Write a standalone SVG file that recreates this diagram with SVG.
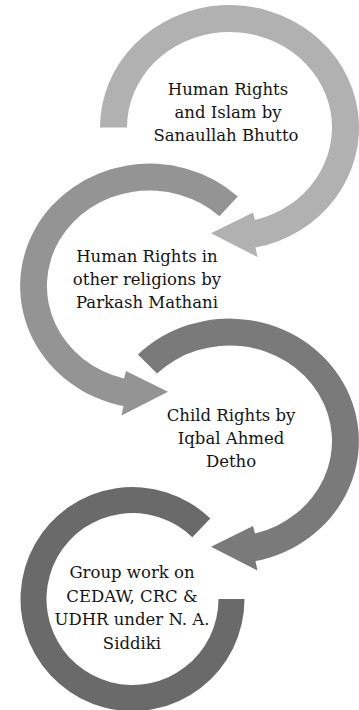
<svg xmlns="http://www.w3.org/2000/svg" width="359" height="710" viewBox="0 0 359 710">
<style>
  .lbl { font-family: "DejaVu Serif", "Liberation Serif", serif; font-size: 16.5px; fill: #141414; text-anchor: middle; }
  .a1 { fill: #b1b1b1; }
  .a2 { fill: #949494; }
  .a3 { fill: #7a7a7a; }
  .a4 { fill: #6a6a6a; }
</style>
<rect width="359" height="710" fill="#ffffff"/>
<g id="node1">
  <path class="a1" d="M 100 127.5 A 129.5 122.5 0 1 1 255.5 247.6 L 257.5 257 L 211 233.3 L 253 212.5 L 255 220 A 102.5 95.5 0 1 0 127 127.5 Z"/>
  <text class="lbl" x="228" y="95">Human Rights</text>
  <text class="lbl" x="228" y="118">and Islam by</text>
  <text class="lbl" x="226" y="141">Sanaullah Bhutto</text>
</g>
<g id="node2">
  <path class="a2" d="M 237.8 196.4 A 129.5 122.5 0 1 0 123.5 406.1 L 121.5 415.5 L 168 391.8 L 126 371 L 124 378.5 A 102.5 95.5 0 1 1 219.4 216.2 Z"/>
  <text class="lbl" x="147" y="262">Human Rights in</text>
  <text class="lbl" x="147" y="285">other religions by</text>
  <text class="lbl" x="147" y="308">Parkash Mathani</text>
</g>
<g id="node3">
  <path class="a3" d="M 137.9 354.4 A 129.5 122.5 0 1 1 255.5 561.1 L 257.5 570.5 L 211 546.8 L 253 526 L 255 533.5 A 102.5 95.5 0 1 0 157 373.5 Z"/>
  <text class="lbl" x="231" y="421">Child Rights by</text>
  <text class="lbl" x="231" y="444">Iqbal Ahmed</text>
  <text class="lbl" x="231" y="467">Detho</text>
</g>
<g id="node4">
  <path class="a4" d="M 210.3 518.5 A 112 112 0 1 0 244.5 599 L 218.5 599 A 86 86 0 1 1 192.3 537.2 Z"/>
  <text class="lbl" x="132" y="578">Group work on</text>
  <text class="lbl" x="132" y="601.5">CEDAW, CRC &amp;</text>
  <text class="lbl" x="132" y="625">UDHR under N. A.</text>
  <text class="lbl" x="132" y="648.5">Siddiki</text>
</g>
</svg>
